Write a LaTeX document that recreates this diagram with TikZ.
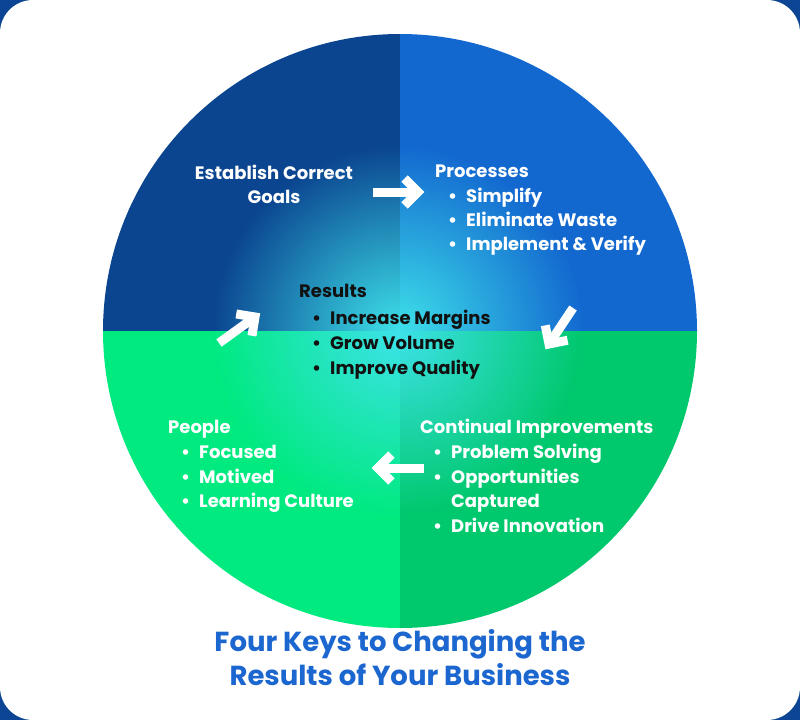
\documentclass[tikz,border=0pt]{standalone}
\usepackage{fontspec}
\setmainfont{Poppins}
\usetikzlibrary{fadings,calc}
\definecolor{navy}{HTML}{0B4593}
\definecolor{qtl}{HTML}{0B4590}
\definecolor{qtr}{HTML}{1368D0}
\definecolor{qbl}{HTML}{00EA80}
\definecolor{qbr}{HTML}{00C86C}
\definecolor{glow}{HTML}{3EE2EA}
\definecolor{titleblue}{HTML}{1B66CF}
\definecolor{ink}{HTML}{111111}
\tikzfading[name=glowfade, inner color=transparent!0, outer color=transparent!100]
\tikzset{
  body/.style={anchor=base west, inner sep=0pt, font=\fontsize{18}{22}\selectfont\bfseries, text=white},
  dark/.style={body, text=ink},
  ctr/.style={body, anchor=base},
  titletext/.style={anchor=base, inner sep=0pt, font=\fontsize{27.5}{32}\selectfont\bfseries, text=titleblue},
  arr/.style={draw=white, line width=9pt, line cap=butt, line join=miter},
}
\newcommand\bul{\makebox[18pt][l]{•}}
\newcommand\keyarrow[2]{%
  \draw[arr] (#1) -- (#2);
  \draw[arr] ($(#2)!19pt!45:(#1)$) -- (#2) -- ($(#2)!19pt!-45:(#1)$);}
\begin{document}
\begin{tikzpicture}[x=1pt,y=-1pt]
\useasboundingbox (0,0) rectangle (800,720);
\fill[navy] (0,0) rectangle (800,720);
\fill[white,rounded corners=33pt] (0,0) rectangle (800,720);
% quadrants
\coordinate (c) at (400,331);
\begin{scope}
\clip (c) circle (297);
\fill[qtl] (0,0) rectangle (400,331);
\fill[qtr] (400,0) rectangle (800,331);
\fill[qbl] (0,331) rectangle (400,720);
\fill[qbr] (400,331) rectangle (800,720);
\fill[glow, path fading=glowfade] (398,331) circle (185);
\end{scope}
% Establish
\node[ctr] (g1) at (274,179) {Establish Correct};
\node[ctr] (g2) at (274,203) {Goals};
% Processes
\node[body] (p0) at (435,177) {Processes};
\node[body] (p1) at (448,202) {\bul Simplify};
\node[body] (p2) at (448,226) {\bul Eliminate Waste};
\node[body] (p3) at (448,250) {\bul Implement \& Verify};
% Results
\node[dark] (r0) at (299,297) {Results};
\node[dark] (r1) at (312,324) {\bul Increase Margins};
\node[dark] (r2) at (312,349) {\bul Grow Volume};
\node[dark] (r3) at (312,374) {\bul Improve Quality};
% Continual
\node[body] (c0) at (420,433) {Continual Improvements};
\node[body] (c1) at (433,458) {\bul Problem Solving};
\node[body] (c2) at (433,483) {\bul Opportunities};
\node[body] (c3) at (433,507) {\hspace*{18pt}Captured};
\node[body] (c4) at (433,532) {\bul Drive Innovation};
% People
\node[body] (e0) at (168,433) {People};
\node[body] (e1) at (181,458) {\bul Focused};
\node[body] (e2) at (181,483) {\bul Motived};
\node[body] (e3) at (181,507) {\bul Learning Culture};
% arrows
\coordinate (a1s) at (373,192); \coordinate (a1e) at (418,192);
\coordinate (a2s) at (573,308); \coordinate (a2e) at (549,344);
\coordinate (a3s) at (424,468); \coordinate (a3e) at (378,468);
\coordinate (a4s) at (219,343); \coordinate (a4e) at (255,317);
\keyarrow{a1s}{a1e}
\keyarrow{a2s}{a2e}
\keyarrow{a3s}{a3e}
\keyarrow{a4s}{a4e}
% title
\node[titletext] (t1) at (400,651) {Four Keys to Changing the};
\node[titletext] (t2) at (400,685) {Results of Your Business};
\end{tikzpicture}
\end{document}
